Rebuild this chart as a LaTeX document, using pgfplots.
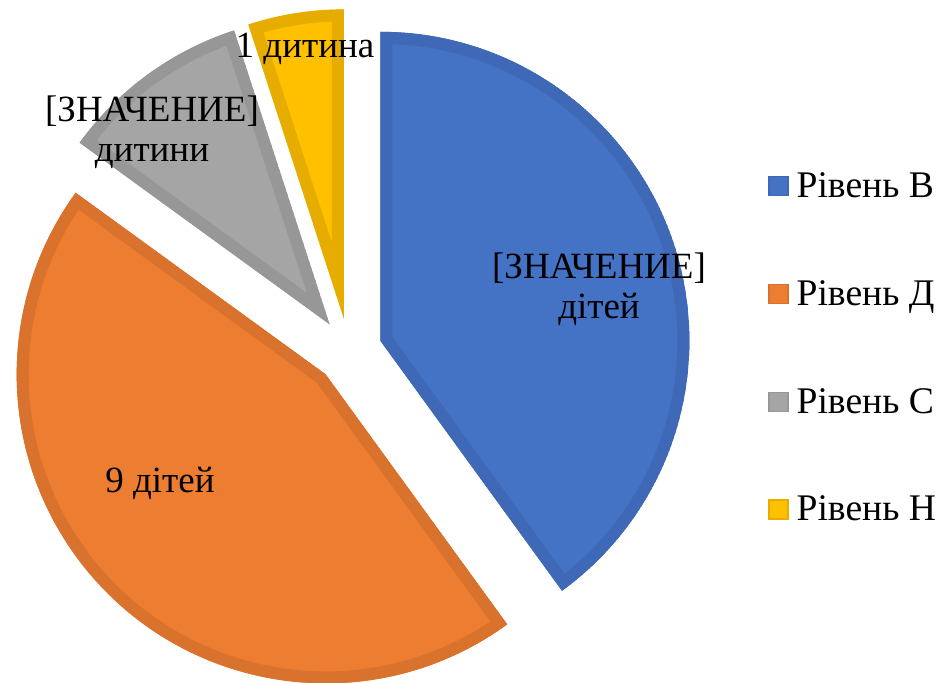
\documentclass[border=0pt]{standalone}
\usepackage{pgfplots}
\pgfplotsset{compat=1.18}
\usepackage{pgfplotstable}
\usepackage{fontspec}
\setmainfont{Liberation Serif}
\usetikzlibrary{calc}
\definecolor{cB}{HTML}{4472C4}\definecolor{cBd}{HTML}{3F69B6}
\definecolor{cD}{HTML}{ED7D31}\definecolor{cDd}{HTML}{D9722D}
\definecolor{cC}{HTML}{A5A5A5}\definecolor{cCd}{HTML}{979797}
\definecolor{cH}{HTML}{FFC000}\definecolor{cHd}{HTML}{E6AD00}

\pgfplotstableread{
level value
B 8
D 9
C 2
H 1
}\piedata
\pgfplotstablegetelem{0}{value}\of\piedata \edef\vB{\pgfplotsretval}
\pgfplotstablegetelem{1}{value}\of\piedata \edef\vD{\pgfplotsretval}
\pgfplotstablegetelem{2}{value}\of\piedata \edef\vC{\pgfplotsretval}
\pgfplotstablegetelem{3}{value}\of\piedata \edef\vH{\pgfplotsretval}
\pgfmathsetmacro\tot{\vB+\vD+\vC+\vH}
\pgfmathsetmacro\aS{90}
\pgfmathsetmacro\aB{\aS-360*\vB/\tot}
\pgfmathsetmacro\aD{\aB-360*\vD/\tot}
\pgfmathsetmacro\aC{\aD-360*\vC/\tot}
\pgfmathsetmacro\aH{\aC-360*\vH/\tot}
\pgfmathsetmacro\mB{(\aS+\aB)/2}
\pgfmathsetmacro\mD{(\aB+\aD)/2}
\pgfmathsetmacro\mC{(\aD+\aC)/2}
\pgfmathsetmacro\mH{(\aC+\aH)/2}

\newcommand\slice[5]{%
  \begin{scope}
  \clip ($(axis cs:349,331)+(#3:16.5pt)$) -- ++(#1:154.5pt)
    arc[start angle=#1, end angle=#2, radius=154.5pt] -- cycle;
  \filldraw[fill=#4, draw=#5, line width=12pt, line join=miter]
    ($(axis cs:349,331)+(#3:16.5pt)$) -- ++(#1:154.5pt)
    arc[start angle=#1, end angle=#2, radius=154.5pt] -- cycle;
  \end{scope}}

\begin{document}
\begin{tikzpicture}
\begin{axis}[
  x=0.5pt, y=0.5pt,
  xmin=0, xmax=946, ymin=0, ymax=682,
  hide axis, clip=false,
  legend cell align=left,
  legend style={at={(axis cs:768,512)}, anchor=north west, draw=none, fill=none,
    font=\fontsize{18.8}{21}\selectfont, row sep=38pt, column sep=3pt, inner sep=0pt,
    nodes={inner sep=1pt}},
  legend image code/.code={\filldraw[#1, line width=0.6pt] (0pt,-4.5pt) rectangle (9.5pt,5pt);},
]
\addlegendimage{fill=cB, draw=cBd}
\addlegendentry{Рівень В}
\addlegendimage{fill=cD, draw=cDd}
\addlegendentry{Рівень Д}
\addlegendimage{fill=cC, draw=cCd}
\addlegendentry{Рівень С}
\addlegendimage{fill=cH, draw=cHd}
\addlegendentry{Рівень Н}

\slice{\aS}{\aB}{\mB}{cB}{cBd}
\slice{\aB}{\aD}{\mD}{cD}{cDd}
\slice{\aD}{\aC}{\mC}{cC}{cCd}
\slice{\aC}{\aH}{\mH}{cH}{cHd}

\node[align=center, font=\fontsize{18.5}{20}\selectfont, inner sep=0pt] at (axis cs:599,393) {[ЗНАЧЕНИЕ]\\дітей};
\node[align=center, font=\fontsize{18.5}{20}\selectfont, inner sep=0pt] at (axis cs:160,199) {9 дітей};
\node[align=center, font=\fontsize{18.5}{20}\selectfont, inner sep=0pt] at (axis cs:152,550) {[ЗНАЧЕНИЕ]\\дитини};
\node[align=center, font=\fontsize{18.5}{20}\selectfont, inner sep=0pt] at (axis cs:305,633) {1 дитина};
\coordinate (ll) at (axis cs:0,0);
\coordinate (ur) at (axis cs:946,682);
\end{axis}
\pgfresetboundingbox
\path[use as bounding box] (ll) rectangle (ur);
\end{tikzpicture}
\end{document}
